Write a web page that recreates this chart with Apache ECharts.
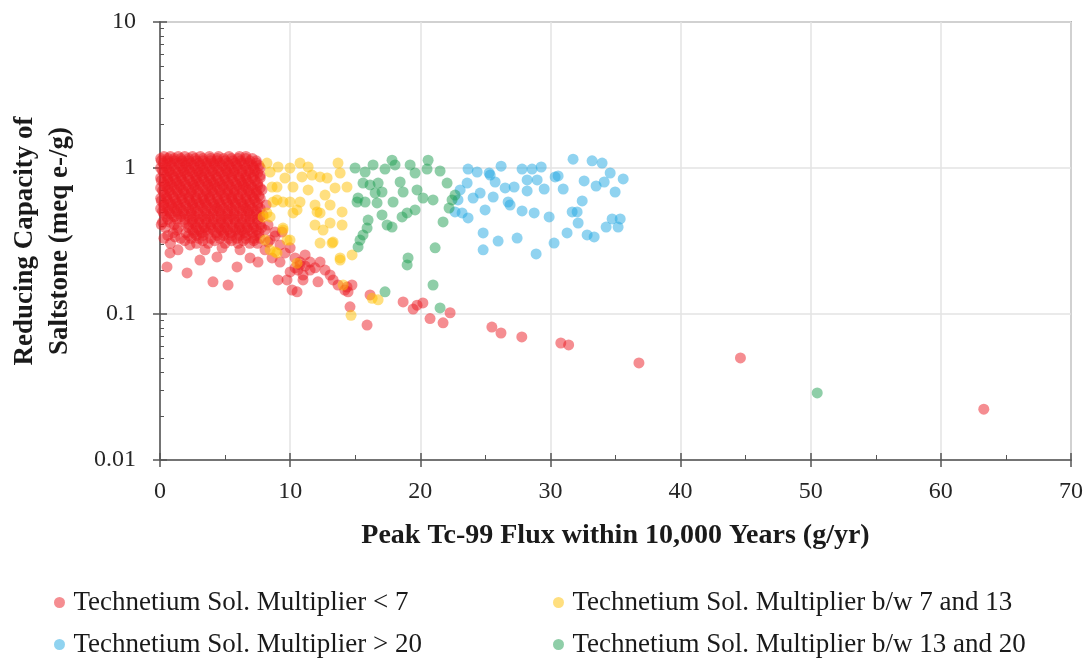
<!DOCTYPE html>
<html><head><meta charset="utf-8">
<script src="https://cdn.jsdelivr.net/npm/echarts@6/dist/echarts.min.js"></script>
<style>html,body{margin:0;padding:0;background:#fff}#c{width:1086px;height:662px}</style>
</head><body><div id="c"></div>
<script>
// ---------- data ----------
const seriesNames = [
  'Technetium Sol. Multiplier < 7',
  'Technetium Sol. Multiplier b/w 7 and 13',
  'Technetium Sol. Multiplier > 20',
  'Technetium Sol. Multiplier b/w 13 and 20'
];
const xTicks = [0,10,20,30,40,50,60,70];
const yTicks = [0.01,0.1,1,10];

// dense red core: [y, [x values]]
const redCoreRows = [
  [1.20,[0.3,0.8,1.4,1.9,2.5,3.1,3.8,4.5,5.3,6.1,6.6]],
  [1.16,[0.05,0.6,1.1,1.6,2.2,2.7,3.3,3.9,4.4,4.9,5.5,6.0,6.6,7.1]],
  [1.12,[0.1,0.6,1.1,1.7,2.2,2.8,3.3,3.9,4.4,5.0,5.6,6.2,6.9,7.4]],
  [1.08,[0.25,0.8,1.4,1.9,2.4,3.0,3.6,4.1,4.6,5.2,5.8,6.3,6.8,7.4]],
  [1.04,[0.4,0.9,1.5,2.0,2.6,3.1,3.6,4.2,4.8,5.3,5.9,6.5,7.1,7.6]],
  [1.00,[0.05,0.5,1.1,1.7,2.2,2.7,3.3,3.8,4.4,5.0,5.5,6.0,6.6,7.2,7.7]],
  [0.96,[0.2,0.7,1.2,1.8,2.3,2.9,3.4,4.0,4.5,5.1,5.7,6.3,6.8,7.3]],
  [0.925,[0.3,0.8,1.4,1.9,2.5,3.0,3.5,4.1,4.7,5.2,5.7,6.3,6.9,7.5]],
  [0.89,[0.5,1.0,1.6,2.1,2.7,3.2,3.8,4.3,4.9,5.5,6.0,6.6,7.2,7.7]],
  [0.855,[0.05,0.6,1.1,1.6,2.2,2.8,3.3,3.8,4.4,5.0,5.5,6.1,6.6,7.1,7.7]],
  [0.82,[0.1,0.6,1.2,1.7,2.3,2.8,3.4,3.9,4.5,5.0,5.6,6.2,6.7,7.3]],
  [0.79,[0.3,0.8,1.3,1.9,2.5,3.0,3.6,4.1,4.6,5.2,5.8,6.3,6.8,7.5]],
  [0.76,[0.4,0.9,1.5,2.0,2.6,3.1,3.7,4.2,4.8,5.3,5.9,6.4,7.0,7.5]],
  [0.73,[0.05,0.6,1.1,1.6,2.2,2.7,3.3,3.9,4.4,4.9,5.5,6.1,6.6,7.1,7.7]],
  [0.70,[0.2,0.7,1.3,1.8,2.4,2.9,3.5,4.0,4.6,5.2,5.7,6.3,6.8,7.4]],
  [0.672,[0.3,0.8,1.4,1.9,2.4,3.0,3.6,4.1,4.7,5.2,5.7,6.3,6.9,7.4]],
  [0.645,[0.5,1.0,1.6,2.2,2.7,3.3,3.8,4.4,4.9,5.5,6.0,6.6,7.1,7.6]],
  [0.62,[0.05,0.5,1.1,1.7,2.2,2.8,3.3,3.8,4.4,5.0,5.5,6.0,6.6,7.2,7.7]],
  [0.595,[0.1,0.6,1.2,1.7,2.3,2.8,3.4,3.9,4.5,5.1,5.6,6.2,6.7,7.3]],
  [0.572,[0.3,0.8,1.3,1.9,2.5,3.0,3.5,4.1,4.6,5.2,5.8,6.3,6.9,7.5]],
  [0.55,[0.3,0.9,1.4,2.0,2.5,3.1,3.6,4.2,4.7,5.3,5.8,6.4,6.9,7.5]],
  [0.527,[0.05,0.6,1.1,1.6,2.2,2.7,3.3,3.9,4.4,4.9,5.5,6.1,6.6,7.1,7.7]],
  [0.505,[0.2,0.7,1.3,1.8,2.4,2.9,3.5,4.1,4.6,5.2,5.7,6.3,6.8,7.4]],
  [0.485,[0.3,0.8,1.4,1.9,2.4,3.0,3.6,4.1,4.7,5.2,5.7,6.3,6.9,7.4]],
  [0.465,[0.5,1.1,1.6,2.2,2.7,3.3,3.8,4.4,4.9,5.5,6.0,6.6,7.1,7.7]],
  [0.445,[0.6,1.3,1.9,2.5,3.0,3.5,4.1,4.7,5.2,5.7,6.3,6.9,7.5]],
  [0.425,[0.2,0.8,1.9,2.5,3.0,3.6,4.1,4.7,5.2,5.8,6.3,6.9,7.5]],
  [0.41,[0.1,1.1,2.2,2.7,3.3,3.9,4.4,4.9,5.5,6.1,6.6,7.1,7.7]],
  [0.39,[0.4,1.4,2.2,2.8,3.4,3.9,4.5,5.0,5.6,6.1,6.7,7.2,7.8]],
  [0.375,[1.3,2.5,3.0,3.5,4.1,4.7,5.2,5.8,6.3,6.8,7.4]],
  [0.36,[1.0,2.0,2.6,3.2,3.7,4.3,4.9,5.4,6.0,6.5,7.1,7.6]],
  [0.345,[0.6,2.2,2.8,3.3,4.4,4.9,5.5,6.1,6.6,7.4]],
  [0.33,[0.3,1.6,2.4,3.0,3.9,4.6,5.3,5.9,6.6,7.2,7.7]],
  [0.318,[1.9,3.3,4.2,5.5,6.4,7.2]],
  [0.305,[0.8,2.8,3.7,5.0,6.0,6.9,7.5]]
];
const redScatter = [
  [0.77,0.262],[0.54,0.210],[1.15,0.337],[2.08,0.191],[3.07,0.234],[4.38,0.246],
  [4.07,0.166],[5.23,0.158],[5.92,0.210],[1.38,0.275],[2.3,0.297],[3.46,0.275],
  [4.77,0.284],[6.15,0.275],[6.92,0.242],[7.53,0.227],[8.07,0.275],[8.46,0.321],
  [8.84,0.364],[8.3,0.407],[7.92,0.477],[8.15,0.558],[9.22,0.297],[9.61,0.262],
  [10.0,0.284],[10.38,0.242],[10.76,0.217],[11.15,0.254],[11.53,0.227],[11.91,0.207],
  [12.3,0.227],[12.68,0.200],[10.99,0.185],[10.0,0.194],[9.22,0.227],[8.61,0.242],
  [9.76,0.171],[10.53,0.142],[10.15,0.146],[9.07,0.171],[10.99,0.171],[12.14,0.166],
  [13.3,0.171],[13.07,0.185],[13.68,0.158],[14.37,0.153],[14.45,0.142],[14.6,0.112],
  [15.91,0.084],[16.14,0.135],[18.68,0.121],[19.45,0.108],[19.75,0.115],[20.2,0.119],
  [20.75,0.093],[21.75,0.087],[22.29,0.102],[25.5,0.0814],[26.2,0.0741],[27.8,0.0697],
  [30.8,0.0633],[31.4,0.0614],[36.8,0.0462],[44.6,0.0500],[63.3,0.0223],
  [10.76,0.227],[11.53,0.200],[10.38,0.207],[11.15,0.213],[10.6,0.200],
  [8.84,0.342],[9.38,0.364],[7.84,0.707],[8.07,0.376],[8.3,0.311],[14.2,0.146],[14.75,0.158]
];
const yellowPts = [
  [8.22,1.08],[8.46,0.939],[9.07,1.016],[9.99,1.0],[10.76,1.08],[11.38,1.016],
  [10.91,0.868],[11.68,0.895],[12.3,0.868],[8.99,0.741],[10.22,0.741],[11.38,0.707],
  [12.68,0.653],[13.68,1.08],[13.84,0.924],[14.37,0.741],[13.07,0.558],[11.91,0.558],
  [10.76,0.585],[9.45,0.585],[8.69,0.585],[10.22,0.492],[12.07,0.5],[13.99,0.5],
  [11.91,0.407],[13.07,0.42],[13.99,0.407],[12.3,0.306],[13.3,0.311],[13.84,0.242],
  [14.76,0.254],[8.46,0.462],[9.45,0.388],[9.76,0.321],[8.84,0.266],[7.92,0.462],
  [8.61,0.741],[9.99,0.585],[10.53,0.516],[8.99,0.604],[12.3,0.492],[12.53,0.376],
  [13.22,0.306],[13.84,0.234],[8.22,0.492],[8.07,0.321],[9.45,0.376],[9.99,0.321],
  [8.99,0.262],[10.53,0.223],[8.46,0.275],[14.07,0.158],[14.68,0.098],[16.76,0.125],
  [16.3,0.128],[9.6,0.854],[12.84,0.854],[13.45,0.73]
];
const bluePts = [
  [23.67,0.984],[24.37,0.939],[25.29,0.924],[25.37,0.895],[26.21,1.03],[27.82,0.984],
  [28.59,0.984],[29.29,1.016],[31.74,1.15],[33.2,1.12],[33.97,1.08],[34.59,0.924],
  [35.59,0.841],[34.97,0.685],[32.59,0.815],[33.51,0.753],[34.13,0.802],[30.36,0.868],
  [30.59,0.882],[30.98,0.718],[29.52,0.718],[28.21,0.696],[28.98,0.828],[28.21,0.828],
  [27.21,0.741],[26.52,0.73],[25.75,0.802],[23.6,0.789],[23.06,0.707],[24.06,0.623],
  [24.6,0.674],[25.6,0.633],[26.75,0.585],[26.9,0.558],[24.98,0.516],[23.67,0.455],
  [23.21,0.492],[27.82,0.508],[28.75,0.492],[29.9,0.462],[32.44,0.595],[31.67,0.5],
  [32.05,0.5],[32.13,0.42],[34.74,0.448],[35.36,0.448],[35.2,0.394],[34.28,0.394],
  [33.36,0.337],[32.82,0.348],[31.28,0.359],[30.28,0.306],[27.44,0.331],[25.98,0.316],
  [24.83,0.359],[24.83,0.275],[28.9,0.258],[22.9,0.604],[22.67,0.5]
];
const greenPts = [
  [14.99,1.0],[15.76,0.939],[16.37,1.05],[17.29,0.984],[17.83,1.13],[18.06,1.05],
  [19.22,1.05],[19.6,0.924],[20.52,0.984],[21.52,0.954],[20.6,1.13],[15.6,0.789],
  [16.14,0.765],[16.76,0.789],[17.06,0.685],[16.53,0.674],[15.14,0.585],[15.22,0.623],
  [15.76,0.585],[16.68,0.576],[17.91,0.585],[18.45,0.802],[18.68,0.685],[19.75,0.707],
  [20.21,0.623],[20.98,0.604],[22.06,0.789],[19.6,0.516],[18.99,0.492],[18.6,0.462],
  [17.06,0.477],[15.99,0.44],[17.45,0.407],[17.83,0.394],[15.91,0.388],[15.6,0.348],
  [15.37,0.321],[15.22,0.288],[21.14,0.284],[21.75,0.427],[19.06,0.242],[18.99,0.217],
  [20.98,0.158],[17.29,0.142],[21.52,0.11],[50.5,0.0288],[22.44,0.604],[22.21,0.532],
  [22.67,0.653]
];
const colors = ['#ec1c24','#ffc000','#22a7e2','#1f9e52'];

// ---------- build ----------
const redPts = [];
redCoreRows.forEach(r => r[1].forEach(x => redPts.push([x, r[0]])));
redScatter.forEach(p => redPts.push(p));
const dataSets = [redPts, yellowPts, bluePts, greenPts];

const serif = "'Liberation Serif','Times New Roman',serif";
const axisCol = '#555';

const chart = echarts.init(document.getElementById('c'), null, {renderer:'canvas'});

const legendPos = [[54,589],[553,589],[54,631],[553,631]];
const legends = seriesNames.map((n,i)=>({
  data:[n], left:legendPos[i][0], top:legendPos[i][1], padding:0,
  icon:'circle', itemWidth:18, itemHeight:11,
  textStyle:{fontFamily:serif, fontSize:27, color:'#1a1a1a'}
}));

chart.setOption({
  animation:false,
  backgroundColor:'#fff',
  grid:{left:160, right:15, top:22, bottom:202, containLabel:false, outerBoundsMode:'none',
        show:true, borderColor:'#7a7a7a', borderWidth:1.5},
  legend: legends,
  xAxis:[{
    type:'value', min:xTicks[0], max:xTicks[xTicks.length-1], interval:10,
    name:'Peak Tc-99 Flux within 10,000 Years (g/yr)', nameLocation:'middle', nameGap:62,
    nameTextStyle:{fontFamily:serif, fontSize:28, fontWeight:'bold', color:'#1a1a1a'},
    axisLine:{lineStyle:{color:axisCol, width:1.5}},
    axisTick:{show:true, inside:false, length:7, lineStyle:{color:axisCol, width:1.5}},
    axisLabel:{fontFamily:serif, fontSize:24, color:'#262626', margin:20},
    splitLine:{show:true, lineStyle:{color:'#e3e3e3', width:1.5}}
  },{
    type:'value', min:xTicks[0], max:xTicks[xTicks.length-1], interval:10, position:'bottom',
    axisLine:{show:false}, axisLabel:{show:false}, splitLine:{show:false},
    axisTick:{show:true, inside:true, length:7, lineStyle:{color:axisCol, width:1.5}},
    minorTick:{show:true, splitNumber:2, length:5, lineStyle:{color:axisCol, width:1}}
  }],
  yAxis:[{
    type:'log', logBase:10, min:yTicks[0], max:yTicks[yTicks.length-1],
    name:'Reducing Capacity of\nSaltstone (meq e-/g)', nameLocation:'middle', nameGap:82, nameRotate:90,
    nameTextStyle:{fontFamily:serif, fontSize:27, fontWeight:'bold', color:'#1a1a1a', lineHeight:35},
    axisLine:{lineStyle:{color:axisCol, width:1.5}},
    axisTick:{show:true, inside:false, length:7, lineStyle:{color:axisCol, width:1.5}},
    axisLabel:{fontFamily:serif, fontSize:24, color:'#262626', margin:24,
      formatter:v=>String(+v.toPrecision(3))},
    splitLine:{show:true, lineStyle:{color:'#e3e3e3', width:1.5}}
  },{
    type:'log', logBase:10, min:yTicks[0], max:yTicks[yTicks.length-1], position:'left',
    axisLine:{show:false}, axisLabel:{show:false}, splitLine:{show:false},
    axisTick:{show:true, inside:true, length:7, lineStyle:{color:axisCol, width:1.5}},
    minorTick:{show:true, splitNumber:9, length:4, lineStyle:{color:axisCol, width:1}}
  }],
  series: dataSets.map((d,i)=>({
    type:'scatter', name:seriesNames[i], data:d, xAxisIndex:0, yAxisIndex:0,
    symbol:'circle', symbolSize:11,
    itemStyle:{color:colors[i], opacity:0.5},
    emphasis:{disabled:true}
  }))
});
</script>
</body></html>
